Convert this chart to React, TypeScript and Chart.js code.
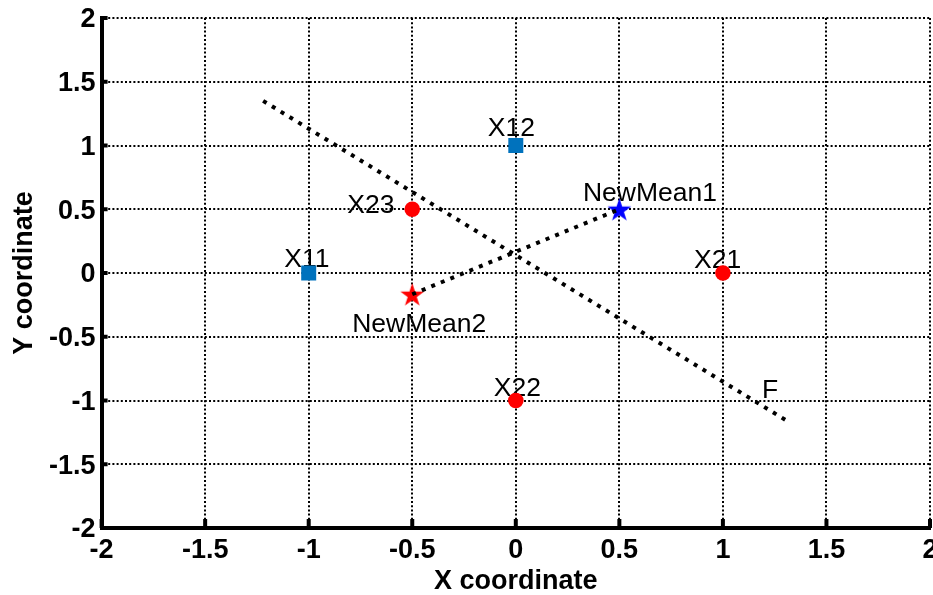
import { useEffect, useRef } from "react";
import { Chart, registerables } from "chart.js";
Chart.register(...registerables);

// ---- data ----
const X_TICKS = [-2, -1.5, -1, -0.5, 0, 0.5, 1, 1.5, 2];
const Y_TICKS = [-2, -1.5, -1, -0.5, 0, 0.5, 1, 1.5, 2];

const CLASS1_X = [-1, 0];
const CLASS1_Y = [0, 1];
const CLASS2_X = [1, 0, -0.5];
const CLASS2_Y = [0, -1, 0.5];
const NEWMEAN1 = [0.5, 0.5];
const NEWMEAN2 = [-0.5, -0.1667];
const LINE_F_X = [-1.22, 1.31];
const LINE_F_Y = [1.35, -1.16];

const LABEL_TEXT = ["X11", "X12", "X21", "X22", "X23", "NewMean1", "NewMean2", "F"];
const LABEL_X = [-1.118, -0.135, 0.861, -0.106, -0.814, 0.324, -0.79, 1.189];
const LABEL_Y = [0.108, 1.131, 0.1, -0.908, 0.531, 0.621, -0.402, -0.92];

const FONT = '"Liberation Sans", Arial, Helvetica, sans-serif';

function makeStar(color: string, R: number) {
  const size = Math.ceil(R * 2) + 4;
  const c = document.createElement("canvas");
  c.width = size;
  c.height = size;
  const g = c.getContext("2d")!;
  const cx = size / 2;
  const cy = size / 2 + 0.0955 * R;
  const r = R * 0.382;
  g.beginPath();
  for (let i = 0; i < 10; i++) {
    const rad = i % 2 === 0 ? R : r;
    const a = -Math.PI / 2 + (i * Math.PI) / 5;
    const px = cx + rad * Math.cos(a);
    const py = cy + rad * Math.sin(a);
    if (i === 0) g.moveTo(px, py);
    else g.lineTo(px, py);
  }
  g.closePath();
  g.fillStyle = color;
  g.fill();
  return c;
}

const tickPlugin = {
  id: "innerTicks",
  beforeDatasetsDraw(chart: any) {
    const { ctx, chartArea, scales } = chart;
    const xs = scales.x;
    const ys = scales.y;
    ctx.save();
    ctx.strokeStyle = "#000";
    ctx.lineWidth = 4;
    X_TICKS.forEach((v) => {
      const px = xs.getPixelForValue(v);
      ctx.beginPath();
      ctx.moveTo(px, chartArea.bottom);
      ctx.lineTo(px, chartArea.bottom - 9);
      ctx.stroke();
    });
    Y_TICKS.forEach((v) => {
      const py = ys.getPixelForValue(v);
      ctx.beginPath();
      ctx.moveTo(chartArea.left, py);
      ctx.lineTo(chartArea.left + 6, py);
      ctx.stroke();
    });
    ctx.restore();
  },
};

const labelPlugin = {
  id: "pointLabels",
  beforeDatasetsDraw(chart: any) {
    const { ctx, scales } = chart;
    ctx.save();
    ctx.font = `26.5px ${FONT}`;
    ctx.fillStyle = "#000";
    ctx.textAlign = "left";
    ctx.textBaseline = "middle";
    LABEL_TEXT.forEach((t, i) => {
      ctx.fillText(t, scales.x.getPixelForValue(LABEL_X[i]), scales.y.getPixelForValue(LABEL_Y[i]));
    });
    ctx.restore();
  },
};

export default function App() {
  const ref = useRef<HTMLCanvasElement>(null);
  useEffect(() => {
    const star1 = makeStar("#0000FF", 12.5);
    const star2 = makeStar("#FF0000", 12.5);
    const dotted = { borderColor: "#000", borderWidth: 4, borderDash: [4, 6.3], pointRadius: 0, showLine: true, fill: false };
    const tickFont = { family: FONT, size: 27, weight: "bold", lineHeight: 1 };
    const chart = new Chart(ref.current!, {
      type: "scatter",
      data: {
        datasets: [
          { label: "F", data: LINE_F_X.map((x, i) => ({ x, y: LINE_F_Y[i] })), ...dotted },
          { label: "means", data: [{ x: NEWMEAN2[0], y: NEWMEAN2[1] }, { x: NEWMEAN1[0], y: NEWMEAN1[1] }], ...dotted },
          {
            label: "NewMean1",
            data: [{ x: NEWMEAN1[0], y: NEWMEAN1[1] }],
            pointStyle: star1 as any,
            pointRadius: 13,
          },
          {
            label: "NewMean2",
            data: [{ x: NEWMEAN2[0], y: NEWMEAN2[1] }],
            pointStyle: star2 as any,
            pointRadius: 13,
          },
          {
            label: "class1",
            data: CLASS1_X.map((x, i) => ({ x, y: CLASS1_Y[i] })),
            pointStyle: "rect",
            pointRadius: 10.6,
            backgroundColor: "#0072BD",
            borderWidth: 0,
          },
          {
            label: "class2",
            data: CLASS2_X.map((x, i) => ({ x, y: CLASS2_Y[i] })),
            pointStyle: "circle",
            pointRadius: 7.8,
            backgroundColor: "#FF0000",
            borderWidth: 0,
          },
        ],
      },
      options: {
        animation: false,
        responsive: false,
        devicePixelRatio: 1,
        events: [],
        layout: { autoPadding: false, padding: { left: 0, right: 3, top: 18, bottom: 0 } },
        plugins: { legend: { display: false }, tooltip: { enabled: false } },
        scales: {
          x: {
            type: "linear",
            min: -2,
            max: 2,
            afterBuildTicks: (s: any) => {
              s.ticks = X_TICKS.map((v) => ({ value: v }));
            },
            afterFit: (s: any) => {
              s.height = 67;
              s.paddingLeft = 0;
              s.paddingRight = 0;
            },
            grid: { color: "#000", lineWidth: 2, drawTicks: false },
            border: { display: true, color: "#000", width: 4, dash: [2, 2.2] },
            ticks: {
              color: "#000",
              padding: 9,
              maxRotation: 0,
              autoSkip: false,
              callback: (v: any) => String(v),
              font: tickFont,
            },
            title: {
              display: true,
              text: "X coordinate",
              color: "#000",
              padding: { top: 0, bottom: 0 },
              font: { family: FONT, size: 27, weight: "bold", lineHeight: 1 },
            },
          },
          y: {
            type: "linear",
            min: -2,
            max: 2,
            afterBuildTicks: (s: any) => {
              s.ticks = Y_TICKS.map((v) => ({ value: v }));
            },
            afterFit: (s: any) => {
              s.width = 101.6;
              s.paddingTop = 0;
              s.paddingBottom = 0;
            },
            grid: { color: "#000", lineWidth: 2, drawTicks: false },
            border: { display: true, color: "#000", width: 4, dash: [2, 2.2] },
            ticks: {
              color: "#000",
              padding: 6,
              labelOffset: 2,
              autoSkip: false,
              callback: (v: any) => String(v),
              font: tickFont,
            },
            title: {
              display: true,
              text: "Y coordinate",
              color: "#000",
              padding: { top: 11, bottom: 0 },
              font: { family: FONT, size: 27, weight: "bold", lineHeight: 1 },
            },
          },
        },
      } as any,
      plugins: [tickPlugin, labelPlugin],
    });
    return () => chart.destroy();
  }, []);
  return (
    <div style={{ position: "fixed", left: 0, top: 0, width: 933, height: 595, background: "#fff" }}>
      <canvas ref={ref} width={933} height={595} style={{ display: "block" }} />
    </div>
  );
}
